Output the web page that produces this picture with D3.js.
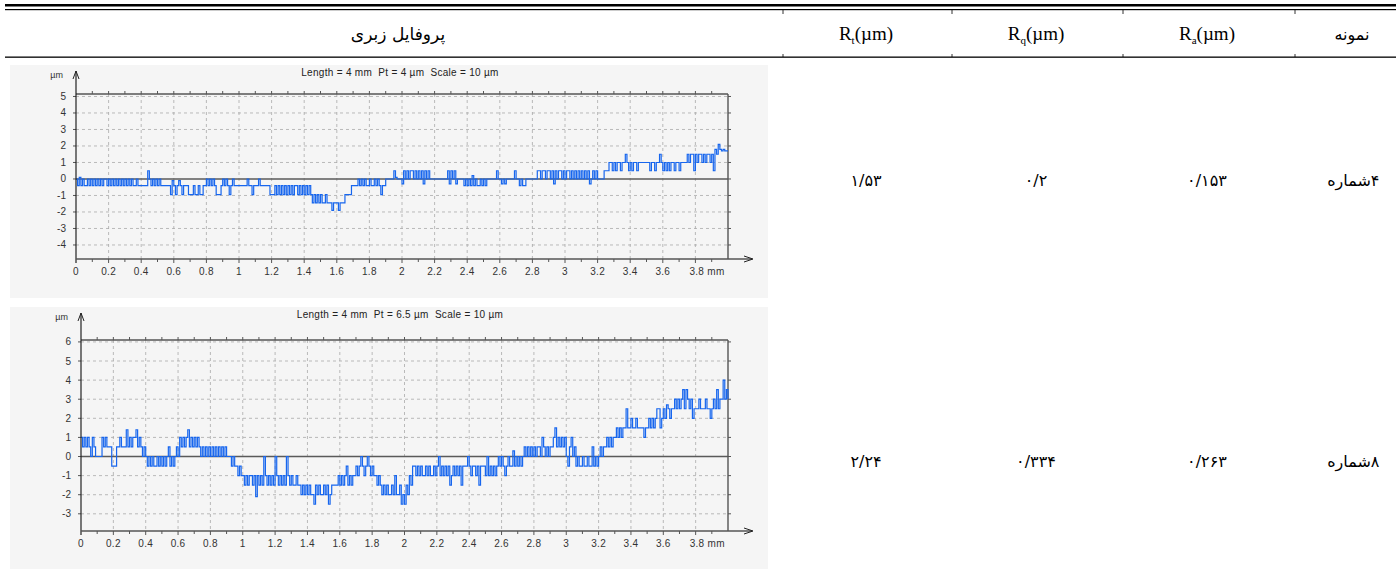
<!DOCTYPE html>
<html>
<head>
<meta charset="utf-8">
<script src="https://cdn.jsdelivr.net/npm/d3@7"></script>
<style>
  body { margin: 0; background: #fff; }
</style>
</head>
<body>
<div id="roughness_table"></div>
<script>
// ---- table data ----
const sampleNames = ["شماره", "شماره"];
const sampleNumbers = ["۴", "۸"];
const raValues = ["۰/۱۵۳", "۰/۲۶۳"];
const rqValues = ["۰/۲", "۰/۳۳۴"];
const rtValues = ["۱/۵۳", "۲/۲۴"];
const profileTitles = [
    "Length = 4 mm  Pt = 4 µm  Scale = 10 µm",
    "Length = 4 mm  Pt = 6.5 µm  Scale = 10 µm"
];

// ---- profile axes ----
const xTicks = [0, 0.2, 0.4, 0.6, 0.8, 1, 1.2, 1.4, 1.6, 1.8, 2, 2.2, 2.4, 2.6, 2.8, 3, 3.2, 3.4, 3.6, 3.8];
const xTickLabels = ["0", "0.2", "0.4", "0.6", "0.8", "1", "1.2", "1.4", "1.6", "1.8", "2", "2.2", "2.4", "2.6", "2.8", "3", "3.2", "3.4", "3.6", "3.8 mm"];
const yTicks4 = [-4, -3, -2, -1, 0, 1, 2, 3, 4, 5];
const yTicks8 = [-3, -2, -1, 0, 1, 2, 3, 4, 5, 6];
const sampleStep = 0.01; // mm between profile readings

// profile of sample 4 (µm), one reading every 0.01 mm
const profile4 = [
    0, -0.4, 0.1, -0.4, 0, -0.4, -0.4, 0, -0.4, 0,
    -0.4, 0, -0.4, 0, -0.4, 0, -0.4, 0, 0, -0.4,
    0, -0.4, 0, -0.4, 0, -0.4, 0, -0.4, 0, -0.4,
    0, -0.4, 0, -0.4, 0, -0.4, -0.4, 0, -0.4, -0.4,
    -0.4, -0.4, -0.4, -0.4, 0.5, 0, -0.4, 0, -0.4, 0,
    -0.4, 0, -0.4, -0.4, -0.4, -0.4, -0.4, -0.4, -0.95, -0.1,
    -0.4, -0.95, -0.4, -0.1, -0.4, -0.95, -0.4, -0.4, -0.4, -0.95,
    -0.95, -0.95, -0.4, -0.95, -0.95, -0.4, -0.95, -0.95, -0.4, -0.4,
    0, -0.4, 0, -0.4, 0, -0.4, -0.95, -0.95, -0.95, -0.4,
    0, -0.4, 0, -0.4, -0.95, -0.4, 0, -0.4, -0.4, -0.4,
    -0.4, -0.4, -0.4, -0.4, -0.4, 0, -0.4, -0.4, -0.95, -0.4,
    -0.4, -0.4, 0, -0.4, -0.4, -0.4, -0.4, -0.4, -0.4, -0.95,
    -0.95, -0.95, -0.4, -0.95, -0.4, -0.95, -0.4, -0.95, -0.4, -0.95,
    -0.4, -0.95, -0.4, -0.95, -0.4, -0.4, -0.95, -0.4, -0.95, -0.4,
    -0.95, -0.4, -0.95, -0.4, -0.95, -1.45, -0.95, -1.45, -0.95, -1.45,
    -0.95, -1.45, -1.45, -0.95, -1.45, -1.45, -1.45, -1.9, -1.45, -1.45,
    -1.45, -1.9, -1.45, -1.45, -1.45, -0.95, -0.95, -0.95, -0.95, -0.4,
    -0.4, -0.4, -0.4, 0, -0.4, 0, -0.4, 0, -0.4, -0.4,
    0, -0.4, -0.4, 0, -0.4, 0, -0.4, -0.95, -0.4, -0.4,
    0, 0, 0, 0, 0, 0.5, 0.1, 0, 0, 0,
    -0.3, 0.5, 0, 0.5, 0, 0.5, 0.5, 0, 0.5, 0,
    0.5, 0, 0.5, -0.3, 0.5, 0, 0.5, 0, 0, 0,
    0, 0, 0, 0, 0, 0, 0, 0, 0.5, -0.3,
    0.5, 0, 0.5, -0.3, 0, 0, 0, 0, -0.4, 0,
    -0.4, 0, -0.4, 0.2, -0.4, 0, -0.4, -0.4, 0, -0.4,
    0, -0.4, 0, 0, 0, 0, 0, 0, 0.5, 0,
    0, -0.3, 0, -0.3, 0, 0, 0, 0, 0, 0.5,
    0, 0, -0.4, 0, -0.4, -0.4, 0, 0, 0, 0,
    0, 0, 0, 0.5, 0.5, 0, 0.5, 0.5, 0, 0.5,
    0.5, 0, 0.5, -0.3, 0.5, 0, 0.5, 0.5, 0, 0.5,
    0, 0.5, 0.5, 0, 0.5, 0, 0.5, 0, 0.5, 0,
    0.5, 0, 0.5, 0, 0.5, -0.3, 0, 0.5, 0, 0.5,
    0, 0, 0, 0, 0.5, 0.5, 0.5, 1, 1, 0.5,
    1, 0.5, 1, 1, 0.5, 1, 1, 1.5, 1, 0.5,
    1, 0.5, 1, 1, 0.5, 1, 1, 1, 1, 1,
    1, 1, 0.5, 1, 1, 0.5, 1, 1, 1.5, 1,
    0.5, 1, 0.5, 1, 0.5, 1, 1, 0.5, 1, 1,
    0.5, 1, 1, 1, 1, 1.5, 1, 1.5, 1.5, 0.5,
    1.5, 1, 1.5, 1.5, 1, 1.5, 1, 1.5, 1.5, 1,
    1.5, 0.5, 1.8, 1.5, 2.1, 1.8, 1.7, 1.8, 1.7, 1.7,
    1.7
];

// profile of sample 8 (µm), one reading every 0.01 mm
const profile8 = [
    1, 0.5, 1, 0.5, 1, 0.5, 0, 1, 0.5, 0,
    0, 0, 0, 1, 0.5, 1, 0.5, 0.5, 0.5, -0.5,
    -0.5, -0.5, 0.5, 0.5, 1, 0.5, 0.5, 0.5, 1.4, 0.5,
    1, 0.5, 1, 1, 1.4, 0.5, 1, 0.5, 0, 0.5,
    0, -0.5, 0, -0.5, 0, -0.5, -0.5, 0, -0.5, 0,
    -0.5, 0, -0.5, 0, 0.5, -0.5, 0, -0.5, 0, 0.5,
    0, 1, 0.5, 1, 0.5, 1, 1.4, 0.5, 1, 0.5,
    1, 0.5, 1, 0.5, 0, 0.5, 0, 0.5, 0, 0.5,
    0, 0.5, 0, 0.5, 0, 0.5, 0, 0.5, 0, 0.5,
    0, 0, 0, -0.5, 0, -0.5, -0.5, -1, -0.5, -1,
    -1, -1.5, -1, -1.5, -1, -1, -1.5, -1, -2.1, -1,
    -1.5, -1, -1.5, 0, -1, -1.5, -1, -1.5, -1, -1.5,
    0, -1, -1.5, -1, -1.5, -1, -1.5, 0, -1, -1.5,
    -1, -1.5, -1.5, -1, -1.5, -1.5, -2, -1.5, -2, -1.5,
    -2, -1.5, -2, -2, -2.5, -1.5, -2, -1.5, -2, -2,
    -1.5, -2, -1.5, -2.5, -2, -1.5, -1.5, -1.5, -1.5, -1,
    -1.5, -1, -1.5, -1, -0.5, -1.5, -1, -1.5, -1, -1,
    -0.5, -1, -0.5, 0, -0.5, -1, -0.5, 0, -0.5, -1,
    -0.5, -1, -1, -1.5, -1, -1.5, -2, -1.5, -2, -1.5,
    -2, -2, -1.5, -2, -1, -2, -2, -1.5, -2.5, -2,
    -2.5, -1.5, -2, -1, -1.5, -0.5, -0.5, -1, -0.5, -1,
    -0.5, -1, -1, -0.5, -1, -0.5, -1, -1, -0.5, -1,
    -0.5, 0, -1, -0.5, -1, -0.5, -1, -0.5, -1.5, -1,
    -0.5, -1, -0.5, -1, -0.5, -1.5, -0.5, -0.5, -0.5, 0,
    -0.5, -1, -0.5, -0.5, -1, -0.5, -1.5, -0.5, -0.5, -0.5,
    -1, 0, -1, -0.5, -1, -0.5, -1, -0.5, 0, -0.5,
    0, -0.5, -1, -0.5, 0, -0.5, -0.5, 0.3, -0.5, 0,
    -0.5, 0, -0.5, 0, 0.5, 0, 0.5, 0, 0.5, 0,
    0.5, 0, 0.5, 0.5, 0, 1, 0.5, 0, 0.5, 0,
    0.5, 0.5, 1, 1.5, 0.5, 1, 0.5, 1, 0.5, 1,
    0, -0.5, 0.5, 1, 0, 0.5, -0.5, 0, -0.5, -0.5,
    0, -0.5, -0.5, 0, -0.5, -0.5, 0.5, -0.5, 0, -0.5,
    0, 0.5, 0, 0.5, 0.5, 1, 0.5, 1, 0.5, 1,
    1, 1.5, 1, 1.5, 1, 1.5, 1.5, 2.5, 1.5, 1.5,
    2, 1.5, 1.5, 2, 1.5, 1.5, 1.5, 1.5, 1, 1.5,
    1.5, 2, 1.5, 2, 1.5, 2, 2.5, 2.5, 1.5, 2,
    2.5, 2, 2.7, 2.5, 2, 2.5, 2.5, 3, 2.5, 3,
    2.5, 3, 3.5, 2.5, 3.5, 3, 2.5, 3, 2, 2.5,
    2.5, 2.5, 3, 2.5, 2.5, 2.5, 3, 2.5, 2.5, 2,
    2.5, 3, 2.5, 3.5, 2.5, 3, 3, 4, 3, 3.5,
    3
];

const width = 1396, height = 569;

const svg = d3.select("#roughness_table").append("svg")
    .attr("width", width)
    .attr("height", height)
    .style("display", "block");

// ---- table frame ----
svg.append("rect").attr("x", 5).attr("y", 4).attr("width", width - 5).attr("height", 2.5).attr("fill", "#000");
svg.append("rect").attr("x", 5).attr("y", 9).attr("width", width - 5).attr("height", 1.2).attr("fill", "#000");
svg.append("rect").attr("x", 5).attr("y", 56.5).attr("width", width - 5).attr("height", 1.3).attr("fill", "#000");

const colBorders = [783, 952, 1123, 1295];
colBorders.forEach(cx => {
    svg.append("line").attr("x1", cx).attr("x2", cx).attr("y1", 10).attr("y2", 14)
        .attr("stroke", "#000").attr("stroke-width", 0.8);
    svg.append("line").attr("x1", cx).attr("x2", cx).attr("y1", 54).attr("y2", 57)
        .attr("stroke", "#000").attr("stroke-width", 0.8);
});

const colCenters = { profile: 398, rt: 866, rq: 1036, ra: 1207, name: 1352 };
const headerY = 40;

svg.append("text")
    .attr("x", colCenters.profile).attr("y", headerY)
    .attr("text-anchor", "middle")
    .style("font-family", "DejaVu Sans")
    .style("font-size", "17px")
    .text("پروفایل زبری");

function rHeader(cx, sub) {
    const t = svg.append("text")
        .attr("x", cx).attr("y", headerY)
        .attr("text-anchor", "middle")
        .style("font-family", "Liberation Serif")
        .style("font-size", "19px");
    t.append("tspan").text("R");
    t.append("tspan").attr("dy", 4).style("font-size", "11px").text(sub);
    t.append("tspan").attr("dy", -4).text("(µm)");
}
rHeader(colCenters.rt, "t");
rHeader(colCenters.rq, "q");
rHeader(colCenters.ra, "a");

svg.append("text")
    .attr("x", colCenters.name).attr("y", headerY)
    .attr("text-anchor", "middle")
    .style("font-family", "DejaVu Sans")
    .style("font-size", "16px")
    .text("نمونه");

// ---- value cells ----
const rowY = [186, 467];
rowY.forEach((ry, i) => {
    [[colCenters.rt, rtValues[i]], [colCenters.rq, rqValues[i]], [colCenters.ra, raValues[i]]].forEach(([cx, v]) => {
        svg.append("text")
            .attr("x", cx).attr("y", ry)
            .attr("text-anchor", "middle")
            .style("font-family", "DejaVu Sans")
            .style("font-size", "16px")
            .text(v);
    });
    // word and number placed separately so the number stays on the right
    svg.append("text")
        .attr("x", colCenters.name - 3).attr("y", ry)
        .attr("text-anchor", "middle")
        .style("font-family", "DejaVu Sans")
        .style("font-size", "16px")
        .text(sampleNames[i]);
    svg.append("text")
        .attr("x", colCenters.name + 23).attr("y", ry)
        .attr("text-anchor", "middle")
        .style("font-family", "DejaVu Sans")
        .style("font-size", "16px")
        .text(sampleNumbers[i]);
});

// ---- profile charts ----
const charts = [
    { data: profile4, title: profileTitles[0], yTicks: yTicks4,
      panel: { x: 10, y: 65, w: 758, h: 233 },
      left: 76, right: 728, top: 94, bottom: 259, yDomain: [-4.85, 5.15] },
    { data: profile8, title: profileTitles[1], yTicks: yTicks8,
      panel: { x: 10, y: 307, w: 758, h: 262 },
      left: 81, right: 728, top: 340, bottom: 531, yDomain: [-3.9, 6.1] }
];

charts.forEach(drawProfile);

function drawProfile(c) {
    const g = svg.append("g");
    const axisColor = "#555";
    const labelFont = "Liberation Sans";

    g.append("rect")
        .attr("x", c.panel.x).attr("y", c.panel.y)
        .attr("width", c.panel.w).attr("height", c.panel.h)
        .attr("fill", "#f5f5f5");

    const x = d3.scaleLinear().domain([0, 4]).range([c.left, c.right]);
    const y = d3.scaleLinear().domain(c.yDomain).range([c.bottom, c.top]);

    // dashed grid
    g.selectAll(".vGrid")
        .data(xTicks.filter(d => d > 0))
        .enter().append("line")
        .attr("x1", d => x(d)).attr("x2", d => x(d))
        .attr("y1", c.top).attr("y2", c.bottom)
        .attr("stroke", "#aaa").attr("stroke-width", 0.8)
        .attr("stroke-dasharray", "3,3");

    g.selectAll(".hGrid")
        .data(c.yTicks.filter(d => d !== 0))
        .enter().append("line")
        .attr("x1", c.left).attr("x2", c.right)
        .attr("y1", d => y(d)).attr("y2", d => y(d))
        .attr("stroke", "#aaa").attr("stroke-width", 0.8)
        .attr("stroke-dasharray", "3,3");

    // zero line
    g.append("line")
        .attr("x1", c.left).attr("x2", c.right)
        .attr("y1", y(0)).attr("y2", y(0))
        .attr("stroke", "#5a5a5a").attr("stroke-width", 1.4);

    // top and right border
    g.append("line").attr("x1", c.left).attr("x2", c.right).attr("y1", c.top).attr("y2", c.top)
        .attr("stroke", axisColor).attr("stroke-width", 1.4);
    g.append("line").attr("x1", c.right).attr("x2", c.right).attr("y1", c.top).attr("y2", c.bottom)
        .attr("stroke", axisColor).attr("stroke-width", 1.4);

    // minor ticks every 0.1 mm
    const minor = d3.range(1, 40).map(i => i / 10);
    g.selectAll(".topTick")
        .data(minor).enter().append("line")
        .attr("x1", d => x(d)).attr("x2", d => x(d))
        .attr("y1", c.top - 3).attr("y2", c.top)
        .attr("stroke", axisColor).attr("stroke-width", 1);
    g.selectAll(".botTick")
        .data(minor).enter().append("line")
        .attr("x1", d => x(d)).attr("x2", d => x(d))
        .attr("y1", c.bottom).attr("y2", d => c.bottom + (Math.round(d * 10) % 2 === 0 ? 4 : 3))
        .attr("stroke", axisColor).attr("stroke-width", 1);

    // y ticks both sides
    g.selectAll(".yTickL")
        .data(c.yTicks).enter().append("line")
        .attr("x1", c.left - 3).attr("x2", c.left)
        .attr("y1", d => y(d)).attr("y2", d => y(d))
        .attr("stroke", axisColor).attr("stroke-width", 1);
    g.selectAll(".yTickR")
        .data(c.yTicks).enter().append("line")
        .attr("x1", c.right).attr("x2", c.right + 3)
        .attr("y1", d => y(d)).attr("y2", d => y(d))
        .attr("stroke", axisColor).attr("stroke-width", 1);

    // profile line
    const line = d3.line()
        .x((d, i) => x(i * sampleStep))
        .y(d => y(d))
        .curve(d3.curveStepAfter);

    g.append("path")
        .datum(c.data)
        .attr("fill", "none")
        .attr("stroke", "#1766ee")
        .attr("stroke-width", 1.2)
        .attr("d", line);

    // axes with arrows
    g.append("line").attr("x1", c.left).attr("x2", c.left).attr("y1", c.panel.y + 6).attr("y2", c.bottom + 4)
        .attr("stroke", "#222").attr("stroke-width", 1.2);
    g.append("path")
        .attr("d", `M${c.left - 3},${c.panel.y + 14}L${c.left},${c.panel.y + 6}L${c.left + 3},${c.panel.y + 14}`)
        .attr("fill", "none").attr("stroke", "#222").attr("stroke-width", 1);
    g.append("line").attr("x1", c.left).attr("x2", c.right + 24).attr("y1", c.bottom).attr("y2", c.bottom)
        .attr("stroke", axisColor).attr("stroke-width", 1.4);
    g.append("path")
        .attr("d", `M${c.right + 16},${c.bottom - 3}L${c.right + 25},${c.bottom}L${c.right + 16},${c.bottom + 3}`)
        .attr("fill", "none").attr("stroke", "#222").attr("stroke-width", 1);

    // labels
    g.selectAll(".xLabel")
        .data(xTicks).enter().append("text")
        .attr("x", (d, i) => xTickLabels[i].endsWith("mm") ? x(d) - 6 : x(d))
        .attr("y", c.bottom + 16)
        .attr("text-anchor", (d, i) => xTickLabels[i].endsWith("mm") ? "start" : "middle")
        .style("font-family", labelFont)
        .style("font-size", "10px")
        .style("letter-spacing", "0.3px")
        .style("fill", "#333")
        .text((d, i) => xTickLabels[i]);

    g.selectAll(".yLabel")
        .data(c.yTicks).enter().append("text")
        .attr("x", c.left - 10)
        .attr("y", d => y(d) + 3.5)
        .attr("text-anchor", "end")
        .style("font-family", labelFont)
        .style("font-size", "10px")
        .style("fill", "#333")
        .text(d => d);

    g.append("text")
        .attr("x", c.left - 13)
        .attr("y", c.panel.y + 13)
        .attr("text-anchor", "end")
        .style("font-family", labelFont)
        .style("font-size", "9px")
        .style("fill", "#333")
        .text("µm");

    g.append("text")
        .attr("x", 400)
        .attr("y", c.panel.y + 11)
        .attr("text-anchor", "middle")
        .attr("xml:space", "preserve")
        .style("white-space", "pre")
        .style("font-family", labelFont)
        .style("font-size", "10px")
        .style("letter-spacing", "0.3px")
        .style("fill", "#222")
        .text(c.title);
}
</script>
</body>
</html>
